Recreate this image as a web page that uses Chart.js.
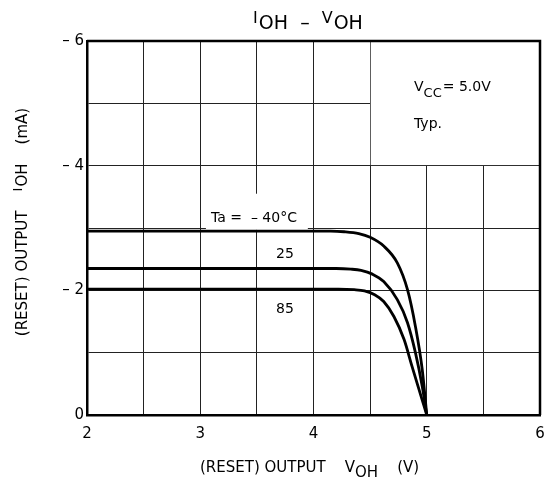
<!DOCTYPE html>
<html>
<head>
<meta charset="utf-8">
<script src="https://cdn.jsdelivr.net/npm/chart.js@4"></script>
<style>
  body { margin: 0; background: #fff; }
  #wrap { width: 545px; height: 483px; }
</style>
</head>
<body>
<div id="wrap"><canvas id="c"></canvas></div>
<script>
// curves: VOH (V) against IOH (mA)
const seriesNames = ["-40", "25", "85"];
const vohM40 = [2.0, 4.15, 4.27, 4.40, 4.50, 4.62, 4.74, 4.83, 4.90, 4.96, 5.0];
const iohM40 = [-2.95, -2.95, -2.94, -2.91, -2.85, -2.71, -2.44, -2.01, -1.42, -0.73, 0];
const voh25 = [2.0, 4.20, 4.33, 4.42, 4.52, 4.62, 4.74, 4.83, 4.90, 4.96, 5.0];
const ioh25 = [-2.35, -2.35, -2.34, -2.32, -2.26, -2.14, -1.85, -1.48, -1.00, -0.46, 0];
const voh85 = [2.0, 4.22, 4.36, 4.45, 4.54, 4.62, 4.71, 4.80, 4.87, 4.95, 5.0];
const ioh85 = [-2.02, -2.02, -2.01, -1.99, -1.93, -1.82, -1.58, -1.21, -0.78, -0.30, 0];

const xTicks = [2, 3, 4, 5, 6];
const yTicks = [-6, -4, -2, 0];

const FONT = "'DejaVu Sans', sans-serif";

function pts(xs, ys) { return xs.map((x, i) => ({x: x, y: ys[i]})); }

function curve(data) {
    return {
        data: data,
        borderColor: "#000",
        borderWidth: 2.8,
        pointRadius: 0,
        cubicInterpolationMode: "monotone",
        fill: false
    };
}

// draw text made of pieces (size, vertical shift) in a row
function parts(ctx, x, y, list) {
    let cx = x;
    list.forEach(p => {
        ctx.font = p.s + "px " + FONT;
        ctx.fillText(p.t, cx, y + (p.dy || 0));
        cx += ctx.measureText(p.t).width + (p.gap || 0);
    });
    return cx - x;
}
function partsWidth(ctx, list) {
    let w = 0;
    list.forEach(p => {
        ctx.font = p.s + "px " + FONT;
        w += ctx.measureText(p.t).width + (p.gap || 0);
    });
    return w;
}

const masks = {
    id: "masks",
    beforeDatasetsDraw(chart) {
        const ctx = chart.ctx, x = chart.scales.x, y = chart.scales.y;
        ctx.save();
        ctx.fillStyle = "#fff";
        // box behind Vcc / Typ.
        let l = x.getPixelForValue(4.5) + 0.6, r = x.getPixelForValue(6);
        let t = y.getPixelForValue(-6), b = y.getPixelForValue(-4) - 0.6;
        ctx.fillRect(l, t, r - l, b - t);
        // box behind Ta label
        l = x.getPixelForValue(3.05); r = x.getPixelForValue(3.95);
        t = y.getPixelForValue(-3.55); b = y.getPixelForValue(-2.97);
        ctx.fillRect(l, t, r - l, b - t);
        // top and right frame
        const a = chart.chartArea;
        ctx.strokeStyle = "#000";
        ctx.lineWidth = 2.5;
        ctx.beginPath();
        ctx.moveTo(a.left, a.top);
        ctx.lineTo(a.right, a.top);
        ctx.lineTo(a.right, a.bottom);
        ctx.stroke();
        ctx.restore();
    }
};

const texts = {
    id: "texts",
    afterDraw(chart) {
        const ctx = chart.ctx;
        ctx.save();
        ctx.fillStyle = "#000";
        ctx.textBaseline = "alphabetic";
        ctx.textAlign = "left";

        // title
        const title = [
            {t: "I", s: 16, dy: -6, gap: 1},
            {t: "OH", s: 19, gap: 0},
            {t: "  –  ", s: 19},
            {t: "V", s: 16, dy: -6, gap: 1},
            {t: "OH", s: 19}
        ];
        parts(ctx, 308 - partsWidth(ctx, title) / 2, 29, title);

        // x axis title
        const xt = [
            {t: "(RESET) OUTPUT    ", s: 15},
            {t: "V", s: 15},
            {t: "OH", s: 15, dy: 5},
            {t: "    (V)", s: 15}
        ];
        parts(ctx, 200, 472, xt);

        // y axis title, rotated
        const yt = [
            {t: "(RESET) OUTPUT    ", s: 15},
            {t: "I", s: 13, dy: -5, gap: 1},
            {t: "OH", s: 15},
            {t: "    (mA)", s: 15}
        ];
        ctx.translate(27, 0);
        ctx.rotate(-Math.PI / 2);
        const w = partsWidth(ctx, yt);
        parts(ctx, -222 - w / 2, 0, yt);
        ctx.setTransform(1, 0, 0, 1, 0, 0);

        // annotations
        parts(ctx, 414, 91, [
            {t: "V", s: 14},
            {t: "CC", s: 13, dy: 6, gap: 1},
            {t: "= 5.0V", s: 14}
        ]);
        ctx.font = "14px " + FONT;
        ctx.fillText("Typ.", 414, 128);
        ctx.fillText("Ta =  – 40°C", 211, 222);
        ctx.fillText("25", 276, 258);
        ctx.fillText("85", 276, 313);
        ctx.restore();
    }
};

new Chart(document.getElementById("c"), {
    type: "line",
    data: {
        datasets: [
            curve(pts(vohM40, iohM40)),
            curve(pts(voh25, ioh25)),
            curve(pts(voh85, ioh85))
        ]
    },
    options: {
        responsive: true,
        maintainAspectRatio: false,
        animation: false,
        layout: {padding: {top: 41, right: 5, left: 0, bottom: 0}},
        plugins: {legend: {display: false}, tooltip: {enabled: false}, title: {display: false}},
        scales: {
            x: {
                type: "linear",
                min: 2, max: 6,
                afterFit: s => { s.height = 68; s.paddingLeft = 0; s.paddingRight = 0; },
                border: {color: "#000", width: 2.5},
                grid: {
                    color: "#222",
                    lineWidth: 1,
                    drawTicks: false
                },
                ticks: {
                    stepSize: 0.5,
                    padding: 10,
                    color: "#000",
                    font: {family: FONT, size: 15},
                    callback: v => xTicks.includes(v) ? String(v) : ""
                }
            },
            y: {
                type: "linear",
                min: -6, max: 0,
                reverse: true,
                afterFit: s => { s.width = 87; s.paddingTop = 0; s.paddingBottom = 0; },
                border: {color: "#000", width: 2.5},
                grid: {
                    color: "#222",
                    lineWidth: 1,
                    drawTicks: false
                },
                ticks: {
                    stepSize: 1,
                    padding: 3,
                    color: "#000",
                    font: {family: FONT, size: 15},
                    callback: v => yTicks.includes(v) ? (v === 0 ? "0" : "– " + Math.abs(v)) : ""
                }
            }
        }
    },
    plugins: [masks, texts]
});
</script>
</body>
</html>
